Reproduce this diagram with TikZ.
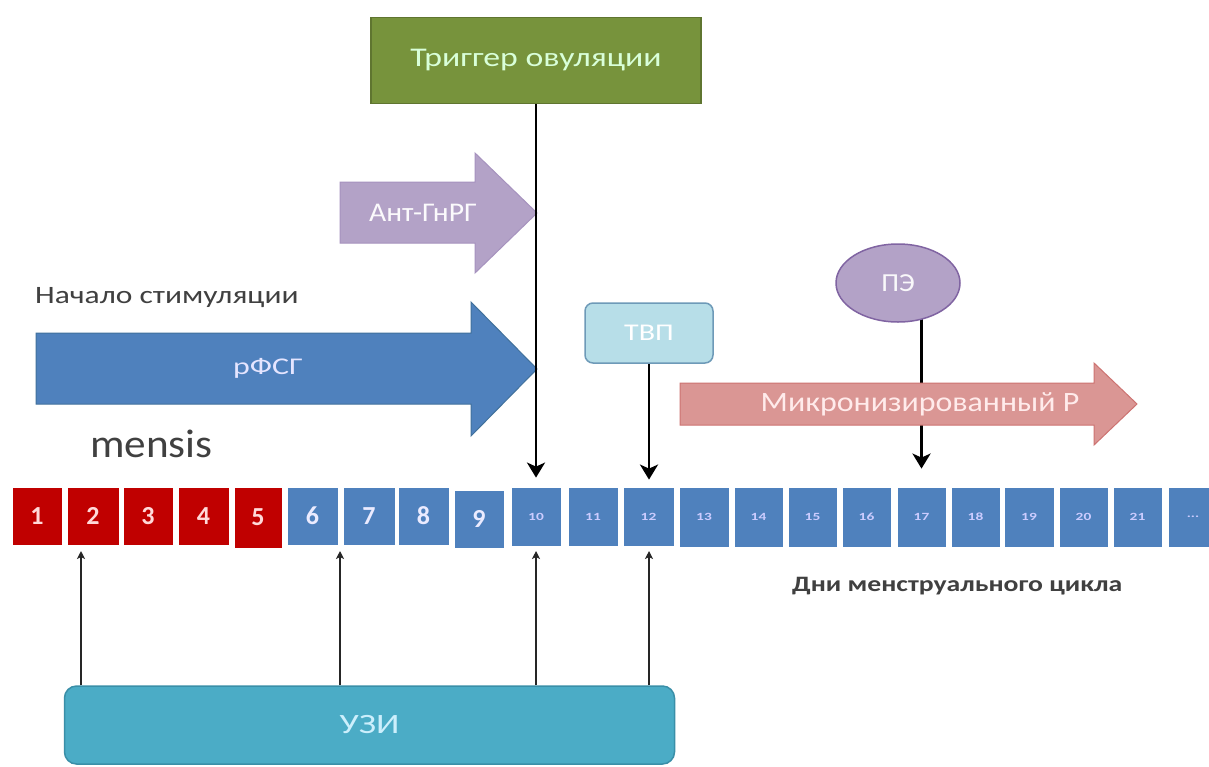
\documentclass[tikz,border=0pt]{standalone}
\usepackage{fontspec}
\setmainfont{Carlito}
\usepackage{graphicx}
\usetikzlibrary{arrows.meta,shapes.geometric}
\definecolor{cred}{HTML}{C00000}
\definecolor{cblue}{HTML}{4F81BD}
\definecolor{cblued}{HTML}{41719C}
\definecolor{cgreen}{HTML}{77933C}
\definecolor{cgreend}{HTML}{5F7530}
\definecolor{cpurple}{HTML}{B3A2C7}
\definecolor{cpurpled}{HTML}{8064A2}
\definecolor{ctvp}{HTML}{B7DEE8}
\definecolor{ctvpd}{HTML}{6E9AB8}
\definecolor{cpink}{HTML}{DA9694}
\definecolor{cpinkd}{HTML}{C0504D}
\definecolor{cuzi}{HTML}{4BACC6}
\definecolor{cuzid}{HTML}{3A8FA8}
\definecolor{ctext}{HTML}{404040}
\newcommand{\sx}[2]{\scalebox{#1}[1]{#2}}
\begin{document}
\begin{tikzpicture}[x=1pt,y=-1pt,
  cell/.style={draw=white,line width=0.8pt,inner sep=0pt,font=\fontsize{26}{26}\selectfont\bfseries},
  redcell/.style={cell,fill=cred,text=red!15},
  bluecell/.style={cell,fill=cblue,text=blue!8},
  smallcell/.style={cell,fill=cblue,text=blue!20,font=\fontsize{11}{11}\selectfont\bfseries},
  thickarrow/.style={line width=2.8pt,draw=black,-{Stealth[length=15pt,width=18pt,inset=4pt]}},
  thinarrow/.style={line width=1.3pt,draw=black!85,-{Stealth[length=8pt,width=8pt,inset=2pt]}},
  lbl/.style={text=ctext,inner sep=0pt}
]
\useasboundingbox (0,0) rectangle (1209,766);
\fill[white] (0,0) rectangle (1209,766);

% day cells
\node[redcell,minimum width=50,minimum height=58] (d1) at (37,516) {1};
\node[redcell,minimum width=52,minimum height=58] (d2) at (93,516) {2};
\node[redcell,minimum width=50,minimum height=58] (d3) at (148,516) {3};
\node[redcell,minimum width=51,minimum height=58] (d4) at (203.5,516) {4};
\node[redcell,minimum width=48,minimum height=61] (d5) at (258,517.5) {5};
\node[bluecell,minimum width=51,minimum height=58] (d6) at (312.5,516) {6};
\node[bluecell,minimum width=52,minimum height=58] (d7) at (369,516) {7};
\node[bluecell,minimum width=51,minimum height=58] (d8) at (423.5,516) {8};
\node[bluecell,minimum width=50,minimum height=58] (d9) at (479,519) {9};
\node[smallcell,minimum width=50,minimum height=59] (d10) at (536,516.5) {\sx{1.4}{10}};
\node[smallcell,minimum width=50,minimum height=59] (d11) at (593,516.5) {\sx{1.4}{11}};
\node[smallcell,minimum width=51,minimum height=59] (d12) at (648.5,516.5) {\sx{1.4}{12}};
\node[smallcell,minimum width=50,minimum height=60] (d13) at (704,517) {\sx{1.4}{13}};
\node[smallcell,minimum width=49,minimum height=60] (d14) at (758.5,517) {\sx{1.4}{14}};
\node[smallcell,minimum width=49,minimum height=60] (d15) at (812.5,517) {\sx{1.4}{15}};
\node[smallcell,minimum width=49,minimum height=60] (d16) at (866.5,517) {\sx{1.4}{16}};
\node[smallcell,minimum width=49,minimum height=60] (d17) at (921.5,517) {\sx{1.4}{17}};
\node[smallcell,minimum width=49,minimum height=60] (d18) at (975.5,517) {\sx{1.4}{18}};
\node[smallcell,minimum width=50,minimum height=60] (d19) at (1029,517) {\sx{1.4}{19}};
\node[smallcell,minimum width=49,minimum height=60] (d20) at (1083.5,517) {\sx{1.4}{20}};
\node[smallcell,minimum width=49,minimum height=60] (d21) at (1137.5,517) {\sx{1.4}{21}};
\node[smallcell,minimum width=50,minimum height=60] (d22) at (1193,517) {\sx{1.4}{...}};

% labels
\node[lbl,anchor=west,font=\fontsize{25}{25}\selectfont] (start) at (35,298) {\sx{1.26}{Начало стимуляции}};
\node[lbl,anchor=west,font=\fontsize{40}{40}\selectfont] (mensis) at (90,444) {\sx{1.08}{mensis}};
\node[lbl,anchor=west,font=\fontsize{22}{22}\selectfont\bfseries] (days) at (792,586) {\sx{1.26}{Дни менструального цикла}};

% trigger box
\node[draw=cgreend,line width=1.5pt,fill=cgreen,minimum width=330,minimum height=86,
  text=green!15!white,font=\fontsize{27}{27}\selectfont] (trig) at (536,60.5) {\sx{1.25}{Триггер овуляции}};

% Ant-GnRH arrow
\filldraw[fill=cpurple,draw=cpurpled!70,line width=1pt]
  (340,182) -- (475,182) -- (475,153) -- (537,213) -- (475,273) -- (475,243) -- (340,243) -- cycle;
\node[text=white!95!cpurple,font=\fontsize{27}{27}\selectfont] (ant) at (423,213) {\sx{1.1}{Ант-ГнРГ}};

% rFSH arrow
\filldraw[fill=cblue,draw=cblued,line width=1pt]
  (36,333) -- (471,333) -- (471,302) -- (537,369) -- (471,436) -- (471,404) -- (36,404) -- cycle;
\node[text=blue!10!white,font=\fontsize{24}{24}\selectfont] (rfsh) at (268,368) {\sx{1.33}{рФСГ}};

% trigger line
\draw[thickarrow,shorten >=9pt] (trig.south) -- (d10.north);

% TVP
\node[draw=ctvpd,line width=1.5pt,fill=ctvp,rounded corners=8pt,minimum width=128,minimum height=60,
  text=white,font=\fontsize{24}{24}\selectfont] (tvp) at (649,333) {\sx{1.25}{ТВП}};
\draw[thickarrow,shorten >=7pt] (tvp.south) -- (tvp.south |- d12.north);

% PE
\coordinate (pec) at (898,283);
\draw[thickarrow,shorten >=18pt] (d17.north |- pec) -- (d17.north);
\node[draw=cpurpled,line width=1.5pt,fill=cpurple,ellipse,minimum width=124,minimum height=78,inner sep=0pt,
  text=white!92!cpurple,font=\fontsize{26}{26}\selectfont] (pe) at (pec) {\sx{1.1}{ПЭ}};

% micronized P arrow
\filldraw[fill=cpink,draw=cpinkd!80,line width=1pt]
  (680,383) -- (1094,383) -- (1094,363) -- (1137,404) -- (1094,445) -- (1094,425) -- (680,425) -- cycle;
\node[text=red!8!white,font=\fontsize{28}{28}\selectfont] (mp) at (920,404) {\sx{1.14}{Микронизированный Р}};

% UZI
\node[draw=cuzid,line width=1.5pt,fill=cuzi,rounded corners=12pt,minimum width=610,minimum height=78,
  text=cyan!20!white,font=\fontsize{28}{28}\selectfont] (uzi) at (369.5,725) {\sx{1.3}{УЗИ}};
\coordinate (u1) at (81,551);
\coordinate (u2) at (340,551);
\coordinate (u3) at (536,551);
\coordinate (u4) at (649,551);
\foreach \u in {u1,u2,u3,u4}
  \draw[thinarrow] (uzi.north -| \u) -- (\u);
\end{tikzpicture}
\end{document}
